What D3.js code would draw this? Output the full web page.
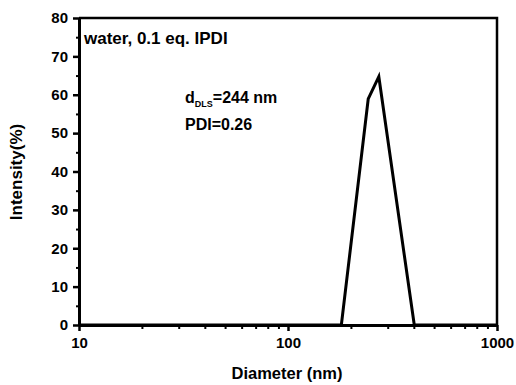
<!DOCTYPE html>
<html>
<head>
<meta charset="utf-8">
<script src="https://cdn.jsdelivr.net/npm/d3@7"></script>
<style>
  body { margin: 0; background: #fff; }
  svg text { font-family: "Liberation Sans", Arial, sans-serif; font-weight: bold; fill: #000; }
</style>
</head>
<body>
<script>
(()=>{
    const width = 516;
    const height = 385;
    const marginTop = 18;
    const marginRight = 19;
    const marginBottom = 60;
    const marginLeft = 79;

    // DLS size distribution
    const diameters = [10, 180, 242, 272, 402, 1000];
    const intensity = [0, 0, 58.9, 64.7, 0, 0];

    const xTicks = [10, 100, 1000];
    const yTicks = [0, 10, 20, 30, 40, 50, 60, 70, 80];

    const data = diameters.map((d, i) => ({d: d, v: intensity[i]}));

    const x = d3.scaleLog()
    .domain([10, 1000])
    .range([marginLeft, width - marginRight]);

    const y = d3.scaleLinear()
    .domain([0, 80])
    .range([height - marginBottom, marginTop]);

    const svg = d3.create("svg")
    .attr("width", width)
    .attr("height", height)
    .attr("viewBox", [0, 0, width, height]);

    // frame top + right
    svg.append("path")
    .attr("d", `M${x(10)},${y(80)}H${x(1000)}V${y(0)}`)
    .attr("fill", "none")
    .attr("stroke", "black")
    .attr("stroke-width", 2.5);

    // minor ticks
    const minorX = [];
    [10, 100].forEach(b => { for (let k = 2; k <= 9; k++) minorX.push(b * k); });
    svg.append("g")
    .attr("transform", `translate(0,${y(0)})`)
    .call(d3.axisBottom(x).tickValues(minorX).tickSize(4).tickFormat(""))
    .call(g => g.select(".domain").remove())
    .call(g => g.selectAll("line").attr("stroke-width", 2));

    svg.append("g")
    .attr("transform", `translate(${marginLeft},0)`)
    .call(d3.axisLeft(y).tickValues([5, 15, 25, 35, 45, 55, 65, 75]).tickSize(3).tickFormat(""))
    .call(g => g.select(".domain").remove())
    .call(g => g.selectAll("line").attr("stroke-width", 2));

    // major axes
    svg.append("g")
    .attr("transform", `translate(0,${y(0)})`)
    .call(d3.axisBottom(x).tickValues(xTicks).tickSize(6).tickSizeOuter(0).tickPadding(6).tickFormat(d3.format("d")))
    .call(g => g.select(".domain").attr("stroke-width", 3))
    .call(g => g.selectAll("line").attr("stroke-width", 2.5))
    .call(g => g.selectAll("text").attr("font-size", 15).attr("font-family", null));

    svg.append("g")
    .attr("transform", `translate(${marginLeft},0)`)
    .call(d3.axisLeft(y).tickValues(yTicks).tickSize(6).tickSizeOuter(0).tickPadding(5))
    .call(g => g.select(".domain").attr("stroke-width", 3))
    .call(g => g.selectAll("line").attr("stroke-width", 2.5))
    .call(g => g.selectAll("text").attr("font-size", 15).attr("font-family", null));

    // distribution line
    svg.append("path")
    .datum(data)
    .attr("fill", "none")
    .attr("stroke", "black")
    .attr("stroke-width", 3)
    .attr("stroke-linejoin", "miter")
    .attr("d", d3.line().x(d => x(d.d)).y(d => y(d.v)));

    // axis titles
    svg.append("text")
    .attr("x", 287)
    .attr("y", 379)
    .attr("text-anchor", "middle")
    .attr("font-size", 16.5)
    .text("Diameter (nm)");

    svg.append("text")
    .attr("transform", `translate(22,172) rotate(-90)`)
    .attr("text-anchor", "middle")
    .attr("font-size", 17)
    .text("Intensity(%)");

    // annotations
    svg.append("text")
    .attr("x", 84)
    .attr("y", 44)
    .attr("font-size", 17)
    .text("water, 0.1 eq. IPDI");

    const dl = svg.append("text")
    .attr("x", 185)
    .attr("y", 103)
    .attr("font-size", 16);
    dl.append("tspan").text("d");
    dl.append("tspan").attr("font-size", 9).attr("dy", 4).text("DLS");
    dl.append("tspan").attr("dy", -4).text("=244 nm");

    svg.append("text")
    .attr("x", 185)
    .attr("y", 130)
    .attr("font-size", 16)
    .text("PDI=0.26");

    d3.select("body").append(() => svg.node());
})()
</script>
</body>
</html>
